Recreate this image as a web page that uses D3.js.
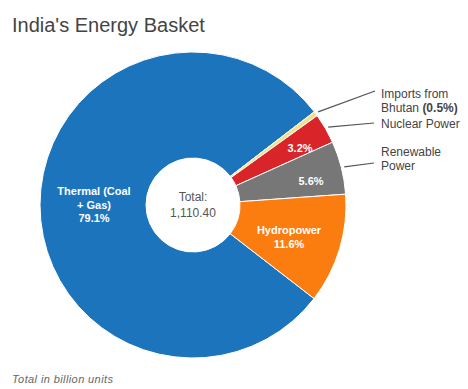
<!DOCTYPE html>
<html>
<head>
<meta charset="utf-8">
<script src="https://cdn.jsdelivr.net/npm/d3@7"></script>
<style>
  body { margin: 0; background: #fff; font-family: "Liberation Sans", Arial, sans-serif; }
</style>
</head>
<body>
<div id="chart"></div>
<script>
// data
var sources = ["Thermal (Coal + Gas)", "Imports from Bhutan", "Nuclear Power", "Renewable Power", "Hydropower"];
var shares = [79.1, 0.5, 3.2, 5.6, 11.6];
var colors = ["#1c75bc", "#f3e08a", "#d9252a", "#777777", "#fb7d0f"];
var totalLabel = "1,110.40";

var width = 468, height = 389;
var cx = 193, cy = 205,
    outerR = 153, innerR = 47;

var svg = d3.select("#chart").append("svg")
    .attr("width", width)
    .attr("height", height);

// title
svg.append("text")
    .attr("x", 12).attr("y", 32)
    .style("font-size", "20px")
    .style("fill", "#444")
    .text("India's Energy Basket");

var data = sources.map(function (s, i) {
    return {name: s, value: shares[i], color: colors[i]};
});

var start = 127.7 * Math.PI / 180;
var pie = d3.pie()
    .sort(null)
    .value(function (d) { return d.value; })
    .startAngle(start)
    .endAngle(start + 2 * Math.PI);

var arcs = pie(data);

var arc = d3.arc().innerRadius(innerR).outerRadius(outerR);
var outerArc = d3.arc().innerRadius(outerR + 3).outerRadius(outerR + 3);

var g = svg.append("g")
    .attr("transform", "translate(" + cx + "," + cy + ")");

g.selectAll("path.slice")
    .data(arcs)
    .enter().append("path")
    .attr("class", "slice")
    .attr("d", arc)
    .attr("fill", function (d) { return d.data.color; })
    .attr("stroke", "#fff")
    .attr("stroke-width", 1);

// labels inside slices
var inside = [
    {lines: ["Thermal (Coal", "+ Gas)", shares[0] + "%"], x: -99, y: -10},
    {lines: ["Hydropower", shares[4] + "%"], x: 96, y: 29},
    {lines: [shares[3] + "%"], x: 118, y: -20},
    {lines: [shares[2] + "%"], x: 107, y: -53}
];

inside.forEach(function (lab) {
    var t = g.append("text")
        .attr("text-anchor", "middle")
        .style("font-size", "11px")
        .style("font-weight", "bold")
        .style("fill", "#fff");
    lab.lines.forEach(function (l, k) {
        t.append("tspan")
            .attr("x", lab.x)
            .attr("y", lab.y + k * 13.5)
            .text(l);
    });
});

// centre total
g.append("text")
    .attr("text-anchor", "middle")
    .attr("y", -4)
    .style("font-size", "12px")
    .style("fill", "#555")
    .text("Total:");
g.append("text")
    .attr("text-anchor", "middle")
    .attr("y", 12)
    .style("font-size", "12px")
    .style("fill", "#555")
    .text(totalLabel);

// outside labels with leader lines
var outside = [
    {i: 1, lines: ["Imports from", "Bhutan "], bold: "(" + shares[1] + "%)", lx: 188, ly: -107, ex: 182, ey: -114},
    {i: 2, lines: ["Nuclear Power"], lx: 188, ly: -77, ex: 181, ey: -82},
    {i: 3, lines: ["Renewable", "Power"], lx: 188, ly: -49, ex: 181, ey: -42}
];

outside.forEach(function (lab) {
    var p = outerArc.centroid(arcs[lab.i]);
    g.append("line")
        .attr("x1", p[0]).attr("y1", p[1])
        .attr("x2", lab.ex).attr("y2", lab.ey)
        .attr("stroke", "#555")
        .attr("stroke-width", 1.2);
    var t = g.append("text")
        .style("font-size", "12px")
        .style("fill", "#444");
    lab.lines.forEach(function (l, k) {
        t.append("tspan")
            .attr("x", lab.lx)
            .attr("y", lab.ly + k * 13.5)
            .text(l);
        if (k == lab.lines.length - 1 && lab.bold) {
            t.append("tspan")
                .style("font-weight", "bold")
                .text(lab.bold);
        }
    });
});

// footnote
svg.append("text")
    .attr("x", 12).attr("y", 383)
    .style("font-size", "11px")
    .style("font-style", "italic")
    .style("letter-spacing", "0.4px")
    .style("fill", "#666")
    .text("Total in billion units");
</script>
</body>
</html>
